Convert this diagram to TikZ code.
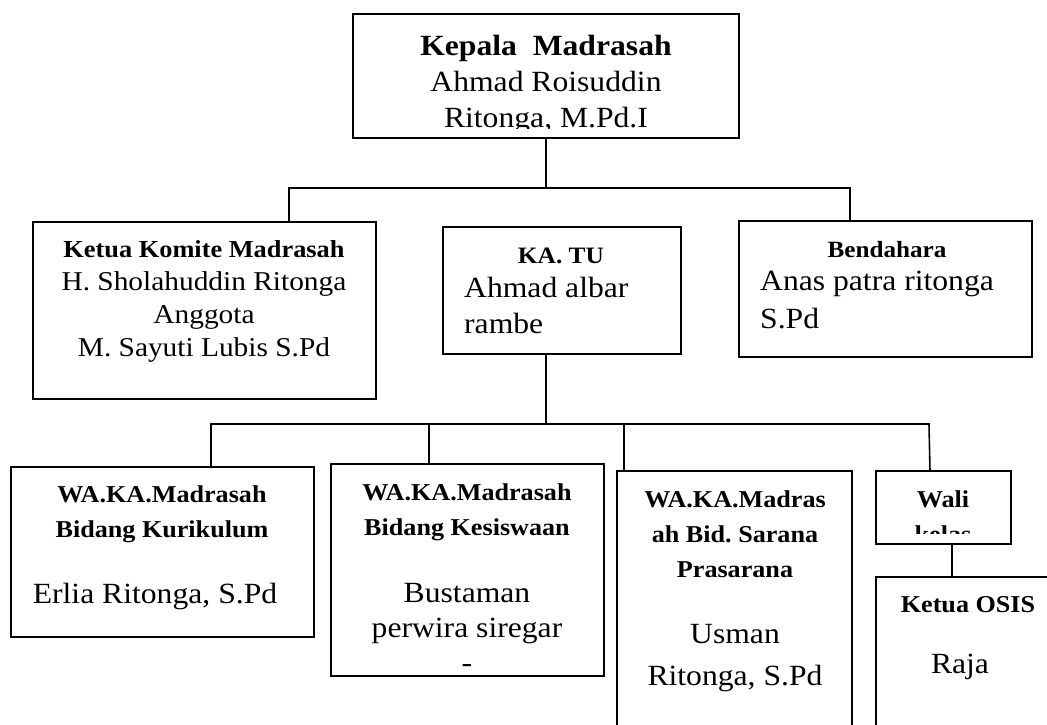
\documentclass[tikz,border=0pt]{standalone}
\usepackage{fontspec}
\setmainfont{Liberation Serif}[FakeStretch=1.08]
\usetikzlibrary{positioning,calc}
\frenchspacing

\newcommand{\jab}[1]{{\fontsize{24.4}{35}\selectfont\bfseries #1}}

\tikzset{
  kotak/.style={draw,line width=1.7pt,inner sep=0pt,outer sep=0pt},
  garis/.style={line width=1.6pt},
  jabatan/.style={font=\bfseries\fontsize{24.2}{35}\selectfont,align=center,anchor=base,inner sep=0pt},
  nama/.style={font=\fontsize{29.3}{35}\selectfont,align=center,anchor=base,inner sep=0pt}
}

\begin{document}
\begin{tikzpicture}[x=1pt,y=-1pt]
    \useasboundingbox (0,0) rectangle (1047,724);
    \clip (0,0) rectangle (1047,724);

    % the boxes
    \node[kotak,minimum width=386pt,minimum height=124pt] (kepala) at (546,76) {};
    \node[kotak,minimum width=343pt,minimum height=177pt] (komite) at (204.5,310.5) {};
    \node[kotak,minimum width=238pt,minimum height=127pt] (katu) at (562,290.5) {};
    \node[kotak,minimum width=293pt,minimum height=136pt] (bendahara) at (885.5,289) {};
    \node[kotak,minimum width=303pt,minimum height=170pt] (kurikulum) at (162.5,552) {};
    \node[kotak,minimum width=273pt,minimum height=212pt] (kesiswaan) at (467.5,570) {};
    \node[kotak,minimum width=235pt,minimum height=289pt] (sarana) at (734.5,615.5) {};
    \node[kotak,minimum width=135pt,minimum height=73pt] (wali) at (943.5,507.5) {};
    \node[kotak,minimum width=194pt,minimum height=183pt] (osis) at (973,668.5) {};

    % the texts (base = last line)
    \begin{scope}
        \clip (kepala.north west) rectangle ([yshift=10pt]kepala.south east);
        \node[nama,font=\fontsize{29.3}{36}\selectfont] (kepalaT) at (546,127)
            {\textbf{Kepala\ \ Madrasah}\\Ahmad Roisuddin\\Ritonga, M.Pd.I};
    \end{scope}
    \node[nama,font=\fontsize{27.2}{33}\selectfont] (komiteT) at (204,356)
        {\jab{Ketua Komite Madrasah}\\H. Sholahuddin Ritonga\\Anggota\\M. Sayuti Lubis S.Pd};
    \node[jabatan,font=\bfseries\fontsize{23.5}{35}\selectfont] (katuJ) at (561,263) {KA. TU};
    \node[nama,align=left,anchor=base west,font=\fontsize{29.3}{36}\selectfont] (katuN) at (464,333)
        {Ahmad albar\\rambe};
    \node[jabatan,font=\bfseries\fontsize{23.3}{35}\selectfont] (bendaharaJ) at (887,257) {Bendahara};
    \node[nama,align=left,anchor=base west,font=\fontsize{29.3}{38}\selectfont] (bendaharaN) at (760,328)
        {Anas patra ritonga\\S.Pd};

    \node[jabatan] (kurikulumJ) at (162,537) {WA.KA.Madrasah\\Bidang Kurikulum};
    \node[nama] (kurikulumN) at (155,603) {Erlia Ritonga, S.Pd};
    \node[jabatan] (kesiswaanJ) at (467,535) {WA.KA.Madrasah\\Bidang Kesiswaan};
    \node[nama] (kesiswaanN) at (467,672) {Bustaman\\perwira siregar\\-};
    \node[jabatan] (saranaJ) at (735,577) {WA.KA.Madras\\ah Bid. Sarana\\Prasarana};
    \node[nama,font=\fontsize{29.3}{42}\selectfont] (saranaN) at (735,685) {Usman\\Ritonga, S.Pd};
    \begin{scope}
        \clip (wali.north west) rectangle ([yshift=11pt]wali.south east);
        \node[jabatan] (waliJ) at (943,542) {Wali\\kelas};
    \end{scope}
    \node[jabatan] (osisJ) at (968,612) {Ketua OSIS};
    \node[nama] (osisN) at (960,673) {Raja};

    % the lines
    \coordinate (atasKiri) at (289,188);
    \coordinate (atasKanan) at (850,188);
    \draw[garis] (kepala.south) -- (kepala.south |- atasKiri);
    \draw[garis] (atasKiri |- komite.north) -- (atasKiri) -- (atasKanan) -- (atasKanan |- bendahara.north);

    \coordinate (bawahKiri) at (211,424);
    \coordinate (bawahKanan) at (929,424);
    \coordinate (cabangKes) at (429,424);
    \coordinate (cabangSar) at (624,424);
    \coordinate (cabangOsis) at (952,544);
    \draw[garis] (kepala.south |- katu.south) -- (kepala.south |- bawahKiri);
    \draw[garis] (bawahKiri |- kurikulum.north) -- (bawahKiri) -- (bawahKanan) -- ([xshift=1pt]bawahKanan |- wali.north);
    \draw[garis] (cabangKes) -- (cabangKes |- kesiswaan.north);
    \draw[garis] (cabangSar) -- (cabangSar |- sarana.north);
    \draw[garis] (cabangOsis |- wali.south) -- (cabangOsis |- osis.north);
\end{tikzpicture}
\end{document}
